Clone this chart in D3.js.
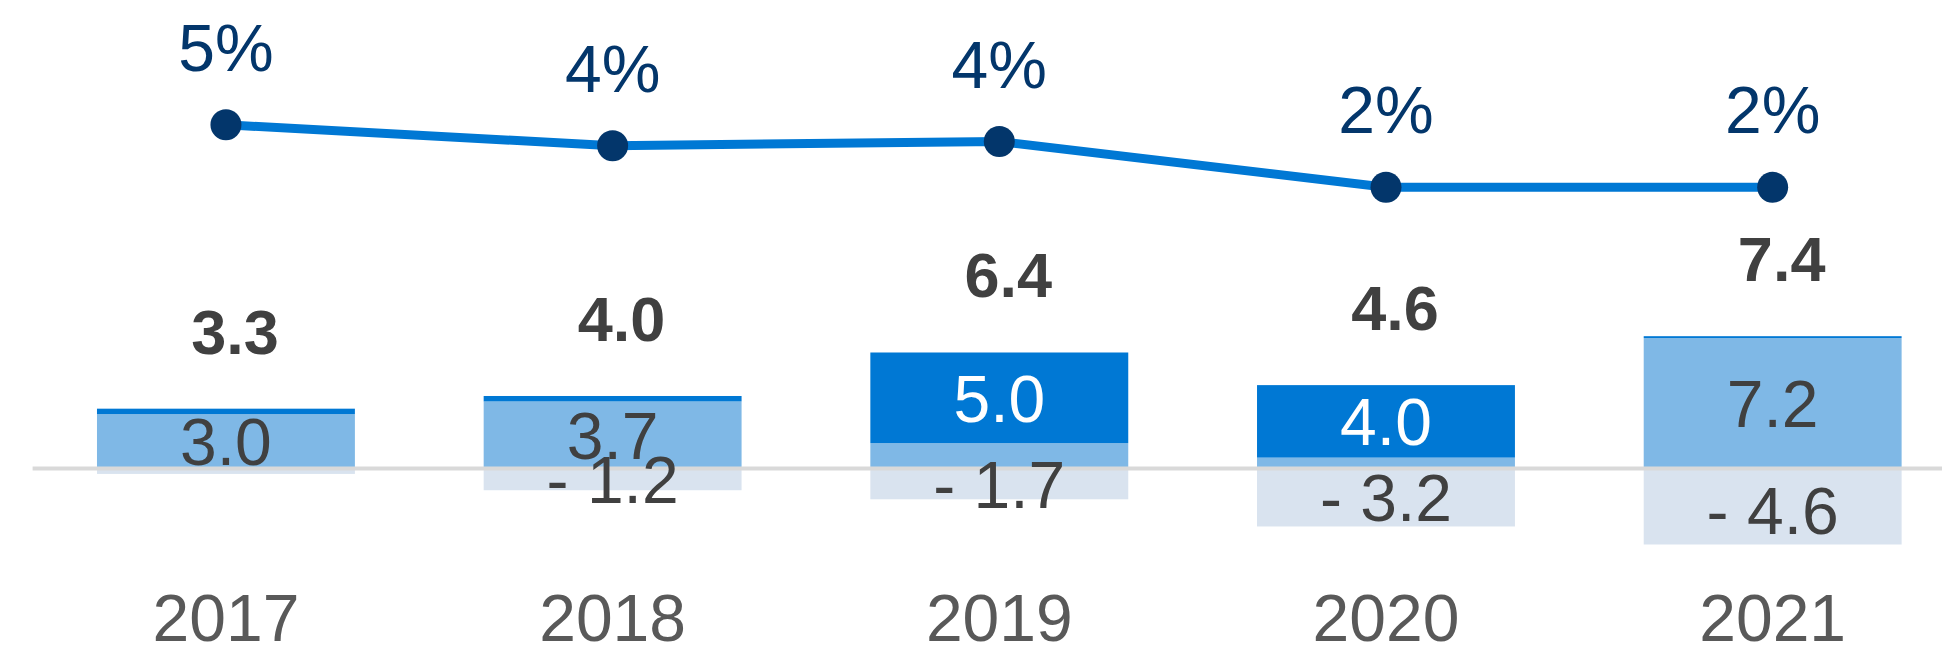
<!DOCTYPE html>
<meta charset="utf-8">
<style>
body { margin: 0; background: #fff; }
text {
  font-family: "Liberation Sans", Arial, sans-serif;
  font-size: 66px;
}
</style>
<svg width="1942" height="649"></svg>
<script src="https://cdnjs.cloudflare.com/ajax/libs/d3/7.8.5/d3.min.js"></script>
<script>
var years = ["2017", "2018", "2019", "2020", "2021"];
var lightValues = [3.0, 3.7, 1.4, 0.6, 7.2];     // light blue segment
var darkValues = [0.3, 0.3, 5.0, 4.0, 0.1];      // dark blue segment on top
var negValues = [-0.3, -1.2, -1.7, -3.2, -4.6];  // pale segment below zero
var totals = [3.3, 4.0, 6.4, 4.6, 7.4];
var pctValues = [5.0, 4.0, 4.2, 2.0, 2.0];

var dark_color = "#0078d4", light_color = "#7fb8e6", neg_color = "#d9e3ef",
    dot_color = "#03366b", label_color = "#404040", year_color = "#595959";

var svg = d3.select("svg");

var x = d3.scaleBand()
    .domain(years)
    .range([32.6, 1966])
    .paddingInner(0.333)
    .paddingOuter(0.1665);

var y = d3.scaleLinear()
    .domain([-4.2, 8])
    .range([544.6, 323.5]);

var yLine = d3.scaleLinear()
    .domain([0, 6])
    .range([229, 104]);

var data = years.map(function(yr, i) {
  return {year: yr, light: lightValues[i], dark: darkValues[i], neg: negValues[i],
          total: totals[i], pct: pctValues[i]};
});

svg.append("defs").append("clipPath")
    .attr("id", "plot")
  .append("rect")
    .attr("x", 0).attr("y", 0)
    .attr("width", 1942).attr("height", y.range()[0]);

var bars = svg.append("g").attr("clip-path", "url(#plot)");

bars.selectAll(".neg")
    .data(data)
    .enter().append("rect")
      .attr("x", function(d) { return x(d.year); })
      .attr("width", x.bandwidth())
      .attr("y", y(0))
      .attr("height", function(d) { return y(d.neg) - y(0); })
      .attr("fill", neg_color);

bars.selectAll(".light")
    .data(data)
    .enter().append("rect")
      .attr("x", function(d) { return x(d.year); })
      .attr("width", x.bandwidth())
      .attr("y", function(d) { return y(d.light); })
      .attr("height", function(d) { return y(0) - y(d.light); })
      .attr("fill", light_color);

bars.selectAll(".dark")
    .data(data)
    .enter().append("rect")
      .attr("x", function(d) { return x(d.year); })
      .attr("width", x.bandwidth())
      .attr("y", function(d) { return y(d.light + d.dark); })
      .attr("height", function(d) { return y(d.light) - y(d.light + d.dark); })
      .attr("fill", dark_color);

// zero line
svg.append("line")
    .attr("x1", x.range()[0]).attr("x2", 1942)
    .attr("y1", y(0)).attr("y2", y(0))
    .attr("stroke", "#d9d9d9")
    .attr("stroke-width", 4);

function cx(d) { return x(d.year) + x.bandwidth() / 2; }
var capHalf = 24;

var labels = svg.append("g").attr("text-anchor", "middle");

labels.selectAll(".neglab")
    .data(data.filter(function(d) { return d.neg <= -1; }))
    .enter().append("text")
      .attr("x", cx)
      .attr("y", function(d) { return (y(0) + y(d.neg)) / 2 + capHalf; })
      .attr("fill", label_color)
      .text(function(d) { return "- " + Math.abs(d.neg).toFixed(1); });

labels.selectAll(".lightlab")
    .data(data.filter(function(d) { return d.light >= 2; }))
    .enter().append("text")
      .attr("x", cx)
      .attr("y", function(d) { return (y(0) + y(d.light)) / 2 + capHalf; })
      .attr("fill", label_color)
      .text(function(d) { return d.light.toFixed(1); });

labels.selectAll(".darklab")
    .data(data.filter(function(d) { return d.dark >= 2; }))
    .enter().append("text")
      .attr("x", cx)
      .attr("y", function(d) { return (y(d.light) + y(d.light + d.dark)) / 2 + capHalf; })
      .attr("fill", "#fff")
      .text(function(d) { return d.dark.toFixed(1); });

labels.selectAll(".total")
    .data(data)
    .enter().append("text")
      .attr("x", function(d) { return cx(d) + 9; })
      .attr("y", function(d) { return y(d.light + d.dark) - 55; })
      .attr("fill", label_color)
      .attr("font-weight", "bold")
      .style("font-size", "63px")
      .text(function(d) { return d.total.toFixed(1); });

labels.selectAll(".year")
    .data(data)
    .enter().append("text")
      .attr("x", cx)
      .attr("y", 641)
      .attr("fill", year_color)
      .text(function(d) { return d.year; });

// percentage line
var line = d3.line()
    .x(cx)
    .y(function(d) { return yLine(d.pct); });

svg.append("path")
    .datum(data)
    .attr("d", line)
    .attr("fill", "none")
    .attr("stroke", dark_color)
    .attr("stroke-width", 9);

svg.append("g").selectAll("circle")
    .data(data)
    .enter().append("circle")
      .attr("cx", cx)
      .attr("cy", function(d) { return yLine(d.pct); })
      .attr("r", 15.5)
      .attr("fill", dot_color);

labels.selectAll(".pct")
    .data(data)
    .enter().append("text")
      .attr("x", cx)
      .attr("y", function(d) { return yLine(d.pct) - 54; })
      .attr("fill", dot_color)
      .text(function(d) { return Math.round(d.pct) + "%"; });
</script>
